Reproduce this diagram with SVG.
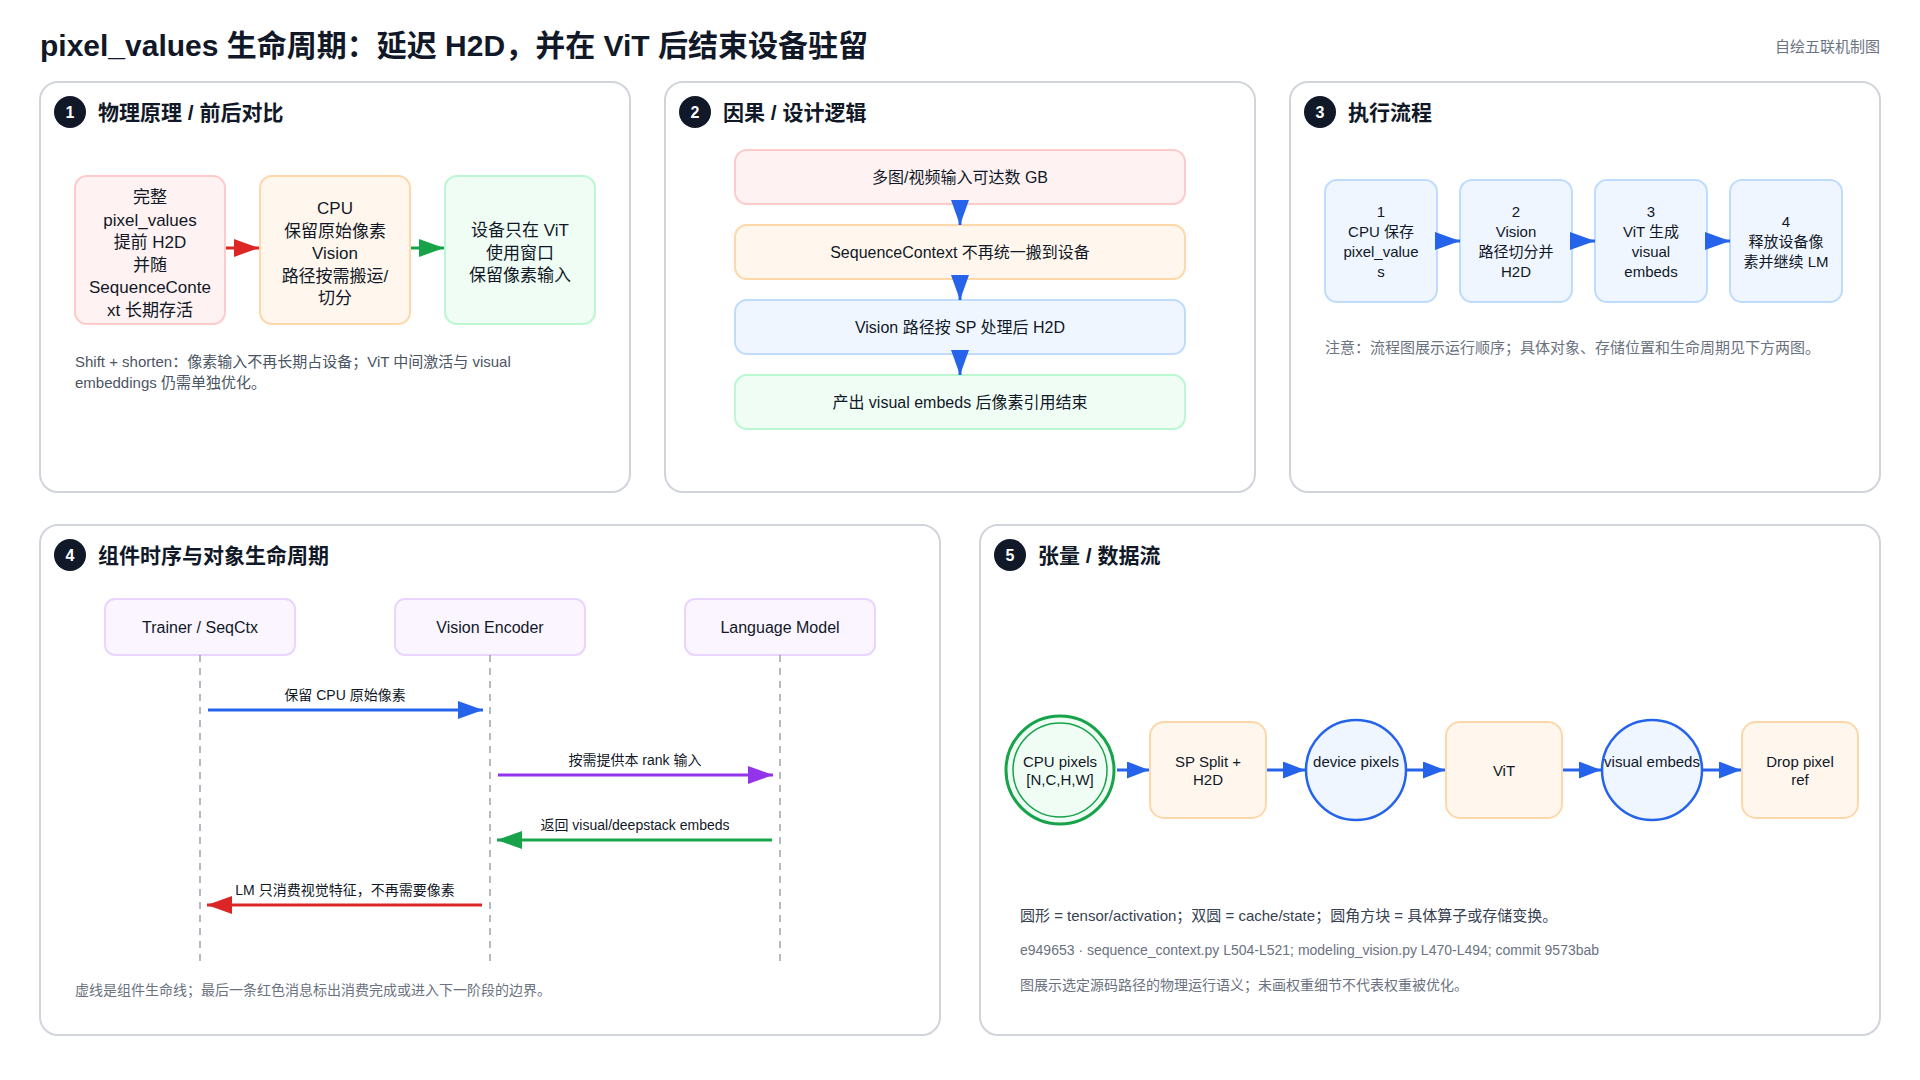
<svg xmlns="http://www.w3.org/2000/svg" width="1920" height="1080" viewBox="0 0 1920 1080">
<style>
text{font-family:"Liberation Sans","Noto Sans CJK SC",sans-serif;fill:#111827}
.title{font-size:30px;font-weight:bold}
.sub{font-size:15px;fill:#6b7280}
.panel{fill:#ffffff;stroke:#d1d5db;stroke-width:2}
.badge{fill:#111827}
.badgeT{font-size:16px;font-weight:bold;fill:#ffffff;text-anchor:middle;dominant-baseline:central}
.ptitle{font-size:21px;font-weight:bold;dominant-baseline:central}
.c{text-anchor:middle;dominant-baseline:central}
.f17{font-size:17px}
.f16{font-size:16px}
.f15{font-size:15px}
.f14{font-size:14px}
.note{font-size:15px;fill:#4b5563;dominant-baseline:central}
.note2{font-size:15px;fill:#6b7280;dominant-baseline:central}
.note3{font-size:14px;fill:#6b7280;dominant-baseline:central}
.red{fill:#fef2f2;stroke:#fecaca;stroke-width:2}
.org{fill:#fff7ed;stroke:#fed7aa;stroke-width:2}
.grn{fill:#f0fdf4;stroke:#bbf7d0;stroke-width:2}
.blu{fill:#eff6ff;stroke:#bfdbfe;stroke-width:2}
.pur{fill:#faf5ff;stroke:#e9d5ff;stroke-width:2}
.life{stroke:#9ca3af;stroke-width:1.5;stroke-dasharray:7 6}
</style>
<defs>
<marker id="hRed" markerWidth="25" markerHeight="18" refX="25" refY="9" orient="auto" markerUnits="userSpaceOnUse"><path d="M0,0 L25,9 L0,18 z" fill="#dc2626"/></marker>
<marker id="hGrn" markerWidth="25" markerHeight="18" refX="25" refY="9" orient="auto" markerUnits="userSpaceOnUse"><path d="M0,0 L25,9 L0,18 z" fill="#16a34a"/></marker>
<marker id="hBlu" markerWidth="25" markerHeight="18" refX="25" refY="9" orient="auto" markerUnits="userSpaceOnUse"><path d="M0,0 L25,9 L0,18 z" fill="#2563eb"/></marker>
<marker id="hPur" markerWidth="25" markerHeight="18" refX="25" refY="9" orient="auto" markerUnits="userSpaceOnUse"><path d="M0,0 L25,9 L0,18 z" fill="#9333ea"/></marker>
<marker id="hBluS" markerWidth="22" markerHeight="17" refX="22" refY="8.5" orient="auto" markerUnits="userSpaceOnUse"><path d="M0,0 L22,8.5 L0,17 z" fill="#2563eb"/></marker>
</defs>

<rect width="1920" height="1080" fill="#ffffff"/>
<text class="title" x="40" y="45" dominant-baseline="central">pixel_values 生命周期：延迟 H2D，并在 ViT 后结束设备驻留</text>
<text class="sub" x="1880" y="46" text-anchor="end" dominant-baseline="central">自绘五联机制图</text>

<!-- Panels -->
<g id="panel1">
<rect class="panel" x="40" y="82" width="590" height="410" rx="18"/>
<circle class="badge" cx="70" cy="112" r="16"/>
<text class="badgeT" x="70" y="112">1</text>
<text class="ptitle" x="98" y="112">物理原理 / 前后对比</text>
<text class="note" x="75" y="361">Shift + shorten：像素输入不再长期占设备；ViT 中间激活与 visual</text>
<text class="note" x="75" y="382">embeddings 仍需单独优化。</text>
</g>
<g id="p1-full">
<rect class="red" x="75" y="176" width="150" height="148" rx="12"/>
<text class="c f17" x="150"><tspan x="150" y="197">完整</tspan><tspan x="150" y="219.5">pixel_values</tspan><tspan x="150" y="242">提前 H2D</tspan><tspan x="150" y="264.5">并随</tspan><tspan x="150" y="287">SequenceConte</tspan><tspan x="150" y="309.5">xt 长期存活</tspan></text>
</g>
<g id="p1-cpu">
<rect class="org" x="260" y="176" width="150" height="148" rx="12"/>
<text class="c f17" x="335"><tspan x="335" y="208">CPU</tspan><tspan x="335" y="230.5">保留原始像素</tspan><tspan x="335" y="253">Vision</tspan><tspan x="335" y="275.5">路径按需搬运/</tspan><tspan x="335" y="298">切分</tspan></text>
</g>
<g id="p1-dev">
<rect class="grn" x="445" y="176" width="150" height="148" rx="12"/>
<text class="c f17" x="520"><tspan x="520" y="230">设备只在 ViT</tspan><tspan x="520" y="252.5">使用窗口</tspan><tspan x="520" y="275">保留像素输入</tspan></text>
</g>

<g id="panel2">
<rect class="panel" x="665" y="82" width="590" height="410" rx="18"/>
<circle class="badge" cx="695" cy="112" r="16"/>
<text class="badgeT" x="695" y="112">2</text>
<text class="ptitle" x="723" y="112">因果 / 设计逻辑</text>
</g>
<g id="p2-a"><rect class="red" x="735" y="150" width="450" height="54" rx="12"/><text class="c f16" x="960" y="177">多图/视频输入可达数 GB</text></g>
<g id="p2-b"><rect class="org" x="735" y="225" width="450" height="54" rx="12"/><text class="c f16" x="960" y="252">SequenceContext 不再统一搬到设备</text></g>
<g id="p2-c"><rect class="blu" x="735" y="300" width="450" height="54" rx="12"/><text class="c f16" x="960" y="327">Vision 路径按 SP 处理后 H2D</text></g>
<g id="p2-d"><rect class="grn" x="735" y="375" width="450" height="54" rx="12"/><text class="c f16" x="960" y="402">产出 visual embeds 后像素引用结束</text></g>

<g id="panel3">
<rect class="panel" x="1290" y="82" width="590" height="410" rx="18"/>
<circle class="badge" cx="1320" cy="112" r="16"/>
<text class="badgeT" x="1320" y="112">3</text>
<text class="ptitle" x="1348" y="112">执行流程</text>
<text class="note2" x="1325" y="347">注意：流程图展示运行顺序；具体对象、存储位置和生命周期见下方两图。</text>
</g>
<g id="p3-1"><rect class="blu" x="1325" y="180" width="112" height="122" rx="12"/>
<text class="c f15"><tspan x="1381" y="211">1</tspan><tspan x="1381" y="231">CPU 保存</tspan><tspan x="1381" y="251">pixel_value</tspan><tspan x="1381" y="271">s</tspan></text></g>
<g id="p3-2"><rect class="blu" x="1460" y="180" width="112" height="122" rx="12"/>
<text class="c f15"><tspan x="1516" y="211">2</tspan><tspan x="1516" y="231">Vision</tspan><tspan x="1516" y="251">路径切分并</tspan><tspan x="1516" y="271">H2D</tspan></text></g>
<g id="p3-3"><rect class="blu" x="1595" y="180" width="112" height="122" rx="12"/>
<text class="c f15"><tspan x="1651" y="211">3</tspan><tspan x="1651" y="231">ViT 生成</tspan><tspan x="1651" y="251">visual</tspan><tspan x="1651" y="271">embeds</tspan></text></g>
<g id="p3-4"><rect class="blu" x="1730" y="180" width="112" height="122" rx="12"/>
<text class="c f15"><tspan x="1786" y="221">4</tspan><tspan x="1786" y="241">释放设备像</tspan><tspan x="1786" y="261">素并继续 LM</tspan></text></g>

<g id="panel4">
<rect class="panel" x="40" y="525" width="900" height="510" rx="18"/>
<circle class="badge" cx="70" cy="555" r="16"/>
<text class="badgeT" x="70" y="555">4</text>
<text class="ptitle" x="98" y="555">组件时序与对象生命周期</text>
<text class="note3" x="75" y="990">虚线是组件生命线；最后一条红色消息标出消费完成或进入下一阶段的边界。</text>
</g>
<g id="p4-trainer"><rect class="pur" x="105" y="599" width="190" height="56" rx="10"/><text class="c f16" x="200" y="627">Trainer / SeqCtx</text></g>
<g id="p4-vision"><rect class="pur" x="395" y="599" width="190" height="56" rx="10"/><text class="c f16" x="490" y="627">Vision Encoder</text></g>
<g id="p4-lm"><rect class="pur" x="685" y="599" width="190" height="56" rx="10"/><text class="c f16" x="780" y="627">Language Model</text></g>

<g id="panel5">
<rect class="panel" x="980" y="525" width="900" height="510" rx="18"/>
<circle class="badge" cx="1010" cy="555" r="16"/>
<text class="badgeT" x="1010" y="555">5</text>
<text class="ptitle" x="1038" y="555">张量 / 数据流</text>
<text class="note" x="1020" y="915" style="fill:#374151">圆形 = tensor/activation；双圆 = cache/state；圆角方块 = 具体算子或存储变换。</text>
<text class="note3" x="1020" y="950">e949653 · sequence_context.py L504-L521; modeling_vision.py L470-L494; commit 9573bab</text>
<text class="note3" x="1020" y="985">图展示选定源码路径的物理运行语义；未画权重细节不代表权重被优化。</text>
</g>
<g id="p5-cpu">
<circle cx="1060" cy="770" r="54" fill="#f0fdf4" stroke="#16a34a" stroke-width="3"/>
<circle cx="1060" cy="770" r="47" fill="none" stroke="#16a34a" stroke-width="1.5"/>
<text class="c f15"><tspan x="1060" y="761">CPU pixels</tspan><tspan x="1060" y="779">[N,C,H,W]</tspan></text>
</g>
<g id="p5-split"><rect class="org" x="1150" y="722" width="116" height="96" rx="14"/>
<text class="c f15"><tspan x="1208" y="761">SP Split +</tspan><tspan x="1208" y="779">H2D</tspan></text></g>
<g id="p5-dev"><circle cx="1356" cy="770" r="50" fill="#eff6ff" stroke="#2563eb" stroke-width="2.5"/>
<text class="c f15" x="1356" y="761">device pixels</text></g>
<g id="p5-vit"><rect class="org" x="1446" y="722" width="116" height="96" rx="14"/>
<text class="c f15" x="1504" y="770">ViT</text></g>
<g id="p5-vis"><circle cx="1652" cy="770" r="50" fill="#eff6ff" stroke="#2563eb" stroke-width="2.5"/>
<text class="c f15" x="1652" y="761">visual embeds</text></g>
<g id="p5-drop"><rect class="org" x="1742" y="722" width="116" height="96" rx="14"/>
<text class="c f15"><tspan x="1800" y="761">Drop pixel</tspan><tspan x="1800" y="779">ref</tspan></text></g>

<!-- Connectors -->
<g id="connectors" fill="none">
<line x1="226" y1="248" x2="259" y2="248" stroke="#dc2626" stroke-width="3" marker-end="url(#hRed)"/>
<line x1="411" y1="248" x2="444" y2="248" stroke="#16a34a" stroke-width="3" marker-end="url(#hGrn)"/>

<line x1="960" y1="205" x2="960" y2="225" stroke="#2563eb" stroke-width="3" marker-end="url(#hBlu)"/>
<line x1="960" y1="280" x2="960" y2="300" stroke="#2563eb" stroke-width="3" marker-end="url(#hBlu)"/>
<line x1="960" y1="355" x2="960" y2="375" stroke="#2563eb" stroke-width="3" marker-end="url(#hBlu)"/>

<line x1="1438" y1="241" x2="1460" y2="241" stroke="#2563eb" stroke-width="3" marker-end="url(#hBlu)"/>
<line x1="1573" y1="241" x2="1595" y2="241" stroke="#2563eb" stroke-width="3" marker-end="url(#hBlu)"/>
<line x1="1708" y1="241" x2="1730" y2="241" stroke="#2563eb" stroke-width="3" marker-end="url(#hBlu)"/>

<line class="life" x1="200" y1="655" x2="200" y2="961"/>
<line class="life" x1="490" y1="655" x2="490" y2="961"/>
<line class="life" x1="780" y1="655" x2="780" y2="961"/>

<line x1="208" y1="710" x2="483" y2="710" stroke="#2563eb" stroke-width="3" marker-end="url(#hBlu)"/>
<line x1="498" y1="775" x2="773" y2="775" stroke="#9333ea" stroke-width="3" marker-end="url(#hPur)"/>
<line x1="772" y1="840" x2="497" y2="840" stroke="#16a34a" stroke-width="3" marker-end="url(#hGrn)"/>
<line x1="482" y1="905" x2="207" y2="905" stroke="#dc2626" stroke-width="3" marker-end="url(#hRed)"/>

<line x1="1117" y1="770" x2="1149" y2="770" stroke="#2563eb" stroke-width="3" marker-end="url(#hBluS)"/>
<line x1="1267" y1="770" x2="1305" y2="770" stroke="#2563eb" stroke-width="3" marker-end="url(#hBluS)"/>
<line x1="1407" y1="770" x2="1445" y2="770" stroke="#2563eb" stroke-width="3" marker-end="url(#hBluS)"/>
<line x1="1563" y1="770" x2="1601" y2="770" stroke="#2563eb" stroke-width="3" marker-end="url(#hBluS)"/>
<line x1="1703" y1="770" x2="1741" y2="770" stroke="#2563eb" stroke-width="3" marker-end="url(#hBluS)"/>
</g>
<g id="connector-labels">
<text class="c f14" x="345" y="695">保留 CPU 原始像素</text>
<text class="c f14" x="635" y="760">按需提供本 rank 输入</text>
<text class="c f14" x="635" y="825">返回 visual/deepstack embeds</text>
<text class="c f14" x="345" y="890">LM 只消费视觉特征，不再需要像素</text>
</g>
</svg>
